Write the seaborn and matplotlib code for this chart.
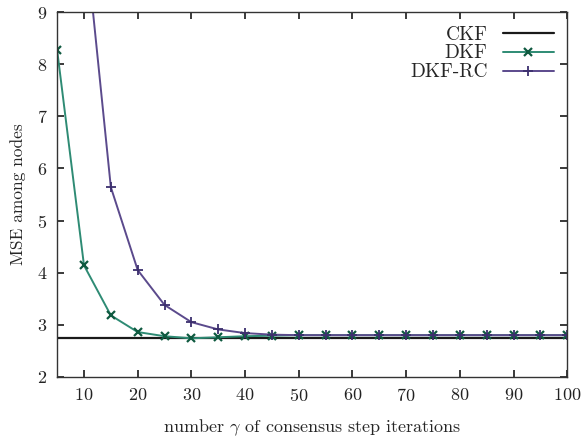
import numpy as np
import pandas as pd
import matplotlib
matplotlib.use("Agg")
import matplotlib.pyplot as plt
import seaborn as sns

gamma = [5, 10, 15, 20, 25, 30, 35, 40, 45, 50, 55, 60, 65, 70, 75, 80, 85, 90, 95, 100]
ckf = [2.74] * len(gamma)
dkf = [8.27, 4.14, 3.18, 2.86, 2.78, 2.74, 2.76, 2.78, 2.79, 2.8, 2.8, 2.8, 2.8, 2.8, 2.8, 2.8, 2.8, 2.8, 2.8, 2.8]
gamma_rc = [10, 15, 20, 25, 30, 35, 40, 45, 50, 55, 60, 65, 70, 75, 80, 85, 90, 95, 100]
dkf_rc = [10.7, 5.64, 4.05, 3.38, 3.05, 2.91, 2.84, 2.81, 2.8, 2.8, 2.8, 2.8, 2.8, 2.8, 2.8, 2.8, 2.8, 2.8, 2.8]

sns.set_theme(style="ticks")
plt.rcParams['font.family'] = ['cmr10', 'DejaVu Serif']
plt.rcParams['mathtext.fontset'] = 'cm'
plt.rcParams['axes.formatter.use_mathtext'] = True

fig = plt.figure(figsize=(5.83, 4.46), dpi=100)
ax = fig.add_axes([0.098, 0.155, 0.875, 0.818])

df_ckf = pd.DataFrame({"g": gamma, "v": ckf})
df_dkf = pd.DataFrame({"g": gamma, "v": dkf})
df_rc = pd.DataFrame({"g": gamma_rc, "v": dkf_rc})

sns.lineplot(data=df_ckf, x="g", y="v", ax=ax, color="#1a1a1a", lw=1.6, label="CKF")
sns.lineplot(data=df_dkf, x="g", y="v", ax=ax, color="#2e8b74", lw=1.4, marker="x",
             markersize=6, markeredgewidth=1.6, markeredgecolor="#0f5a40", label="DKF")
sns.lineplot(data=df_rc, x="g", y="v", ax=ax, color="#5b4a8c", lw=1.4, marker="+",
             markersize=6.5, markeredgewidth=1.3, markeredgecolor="#3c2f6e", label="DKF-RC")

ax.set_xlim(5, 100)
ax.set_ylim(2, 9)
ax.set_xticks(range(10, 101, 10))
ax.set_yticks(range(2, 10))
ax.tick_params(direction="in", top=True, right=True, length=5, labelsize=13, colors="#222222", pad=7)
for s in ax.spines.values():
    s.set_color("#333333")
    s.set_linewidth(1.0)
ax.set_xlabel(r"number $\gamma$ of consensus step iterations", fontsize=13, labelpad=10)
ax.set_ylabel("MSE among nodes", fontsize=12.5, labelpad=8)
leg = ax.legend(loc="upper right", frameon=False, markerfirst=False, fontsize=14,
                handlelength=2.6, labelspacing=0.05, borderaxespad=0.3)

fig.savefig("out.png", dpi=100)
